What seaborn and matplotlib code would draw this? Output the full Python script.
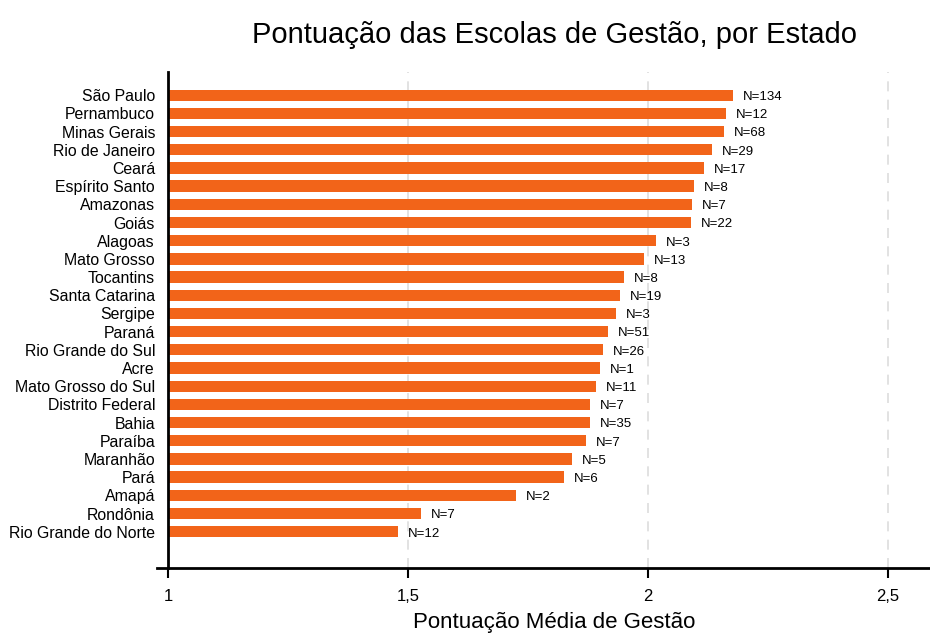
import matplotlib
matplotlib.use("Agg")
import matplotlib.pyplot as plt
import seaborn as sns
import pandas as pd
from matplotlib.ticker import FuncFormatter

estados = ['São Paulo', 'Pernambuco', 'Minas Gerais', 'Rio de Janeiro', 'Ceará',
           'Espírito Santo', 'Amazonas', 'Goiás', 'Alagoas', 'Mato Grosso',
           'Tocantins', 'Santa Catarina', 'Sergipe', 'Paraná', 'Rio Grande do Sul',
           'Acre', 'Mato Grosso do Sul', 'Distrito Federal', 'Bahia', 'Paraíba',
           'Maranhão', 'Pará', 'Amapá', 'Rondônia', 'Rio Grande do Norte']
pontuacao = [2.177, 2.162, 2.158, 2.133, 2.117, 2.096, 2.092, 2.090, 2.017, 1.992,
             1.950, 1.942, 1.933, 1.917, 1.906, 1.900, 1.892, 1.879, 1.879, 1.871,
             1.842, 1.825, 1.725, 1.526, 1.478]
n_escolas = [134, 12, 68, 29, 17, 8, 7, 22, 3, 13, 8, 19, 3, 51, 26, 1, 11, 7, 35, 7,
             5, 6, 2, 7, 12]

df = pd.DataFrame({'estado': estados, 'pontuacao': pontuacao, 'n': n_escolas})

sns.set_theme(style="white")
plt.rcParams['font.family'] = ['Liberation Sans', 'DejaVu Sans']
plt.rcParams['text.color'] = 'black'
plt.rcParams['axes.labelcolor'] = 'black'
plt.rcParams['xtick.color'] = 'black'
plt.rcParams['ytick.color'] = 'black'

fig = plt.figure(figsize=(9.3, 6.34), dpi=100)
ax = fig.add_axes([0.169, 0.104, 0.831, 0.782])

sns.barplot(data=df, y='estado', x='pontuacao', orient='h', color='#F26419',
            saturation=1, width=0.62, linewidth=0, ax=ax)

# bars start at the y axis (x = 1)
for p in ax.patches:
    p.set_width(p.get_width() - 1)
    p.set_x(1)

for i, row in df.iterrows():
    ax.text(row['pontuacao'] + 0.021, i + 0.1, 'N=%d' % row['n'],
            fontsize=9.5, va='center', ha='left', color='black')

ax.set_xlim(0.977, 2.5875)
ax.set_ylim(26, -1.26)
ax.set_xticks([1, 1.5, 2, 2.5])
ax.xaxis.set_major_formatter(FuncFormatter(lambda v, pos: ('%g' % v).replace('.', ',')))
ax.tick_params(axis='x', direction='out', length=7, width=1.5, color='black',
               labelsize=12, pad=8, bottom=True)
ax.tick_params(axis='y', length=0, labelsize=11.4, pad=9.5)

for x in [1.5, 2, 2.5]:
    ax.axvline(x, color='#dddddd', lw=1.2, ls=(0, (6, 5)), zorder=0)

for s in ['top', 'right']:
    ax.spines[s].set_visible(False)
ax.spines['left'].set_position(('data', 1))
ax.spines['left'].set_linewidth(2)
ax.spines['left'].set_color('black')
ax.spines['bottom'].set_linewidth(2)
ax.spines['bottom'].set_color('black')

ax.set_ylabel('')
ax.set_xlabel('')
fig.text(0.596, 0.0095, 'Pontuação Média de Gestão',
         fontsize=16, ha='center', va='baseline')
fig.text(0.596, 0.932, 'Pontuação das Escolas de Gestão, por Estado',
         fontsize=21, ha='center', va='baseline')

fig.savefig('out.png', dpi=100)
